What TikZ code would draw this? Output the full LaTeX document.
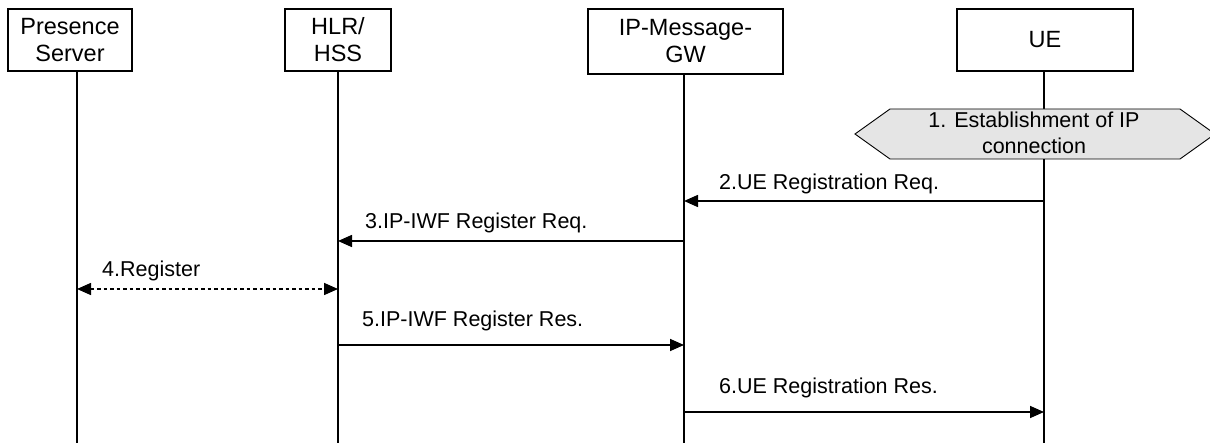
\documentclass[tikz,border=0pt]{standalone}
\usepackage{fontspec}
\setmainfont{Liberation Sans}
\usetikzlibrary{arrows.meta}
\begin{document}
\begin{tikzpicture}[x=1pt,y=-1pt,
  entity/.style={draw,line width=1.5pt,align=center,inner sep=0pt,font=\fontsize{23.5}{27}\selectfont},
  life/.style={line width=1.5pt},
  msg/.style={line width=1.6pt,-{Triangle[length=14pt,width=12pt]}},
  dmsg/.style={line width=1.6pt,dash pattern=on 3.5pt off 3pt,{Triangle[length=14pt,width=12pt]}-{Triangle[length=14pt,width=12pt]}},
  lbl/.style={anchor=base west,inner sep=0pt,font=\fontsize{21.5}{26}\selectfont},
  hexa/.style={draw,line width=0.9pt,fill=black!10}]
\useasboundingbox[fill=white] (0,0) rectangle (1210,443);
% entities
\node[entity,minimum width=124pt,minimum height=62pt] (ps) at (70,40) {Presence\\Server};
\node[entity,minimum width=106pt,minimum height=62pt] (hlr) at (338,40) {HLR/\\HSS};
\node[entity,minimum width=195pt,minimum height=65pt] (gw) at (685.5,41.5) {IP-Message-\\GW};
\node[entity,minimum width=176pt,minimum height=62pt] (ue) at (1045,40) {UE};
% lifelines
\coordinate (psB) at (77,443);
\coordinate (hlrB) at (338,443);
\coordinate (gwB) at (684,443);
\coordinate (ueB) at (1044,443);
\draw[life] (psB |- ps.south) -- (psB);
\draw[life] (hlrB |- hlr.south) -- (hlrB);
\draw[life] (gwB |- gw.south) -- (gwB);
\draw[life] (ueB |- ue.south) -- (ueB);
% step 1
\begin{scope}
\clip (0,0) rectangle (1210,443);
\draw[hexa] (855,134) -- (890,109) -- (1180,109) -- (1215,134) -- (1180,159) -- (890,159) -- cycle;
\end{scope}
\node[align=center,inner sep=0pt,font=\fontsize{21.5}{26}\selectfont] (est) at (1034,133) {1. Establishment of IP\\connection};
% message rows
\coordinate (y2) at (0,201);
\coordinate (y3) at (0,241);
\coordinate (y4) at (0,289);
\coordinate (y5) at (0,345);
\coordinate (y6) at (0,412);
\draw[msg] (ueB |- y2) -- (gwB |- y2);
\draw[msg] (gwB |- y3) -- (hlrB |- y3);
\draw[dmsg] (psB |- y4) -- (hlrB |- y4);
\draw[msg] (hlrB |- y5) -- (gwB |- y5);
\draw[msg] (gwB |- y6) -- (ueB |- y6);
% labels
\node[lbl] (l2) at (719,190) {2.UE Registration Req.};
\node[lbl] (l3) at (365,229) {3.IP-IWF Register Req.};
\node[lbl] (l4) at (102,277) {4.Register};
\node[lbl] (l5) at (362,327) {5.IP-IWF Register Res.};
\node[lbl] (l6) at (719,393) {6.UE Registration Res.};
\end{tikzpicture}
\end{document}
